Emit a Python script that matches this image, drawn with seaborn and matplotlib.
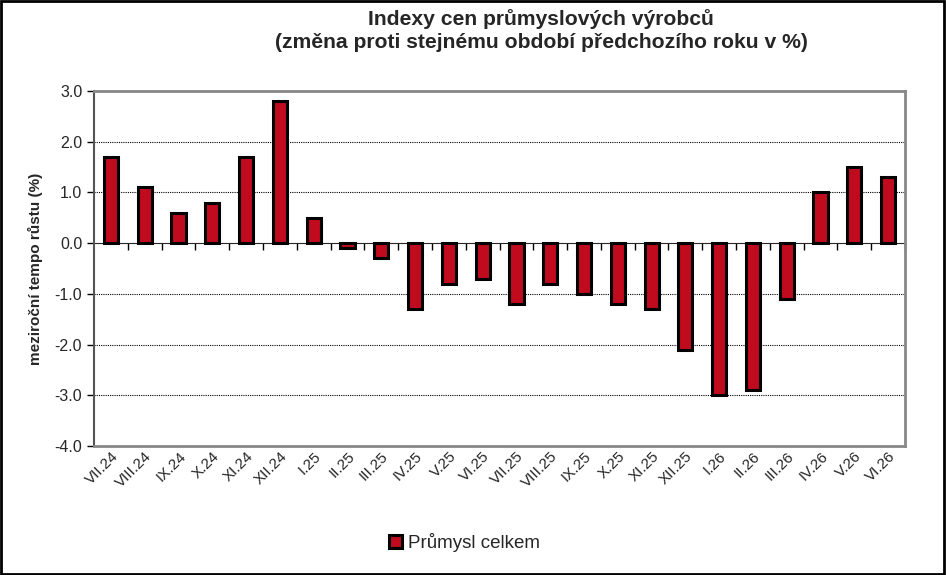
import matplotlib
matplotlib.use("Agg")
import matplotlib.pyplot as plt
import seaborn as sns
import pandas as pd
from matplotlib.ticker import FormatStrFormatter

# data
mesice = ["VII.24", "VIII.24", "IX.24", "X.24", "XI.24", "XII.24", "I.25", "II.25",
          "III.25", "IV.25", "V.25", "VI.25", "VII.25", "VIII.25", "IX.25", "X.25",
          "XI.25", "XII.25", "I.26", "II.26", "III.26", "IV.26", "V.26", "VI.26"]
prumysl_celkem = [1.7, 1.1, 0.6, 0.8, 1.7, 2.8, 0.5, -0.1, -0.3, -1.3, -0.8, -0.7,
                  -1.2, -0.8, -1.0, -1.2, -1.3, -2.1, -3.0, -2.9, -1.1, 1.0, 1.5, 1.3]

df = pd.DataFrame({"mesic": mesice, "hodnota": prumysl_celkem,
                   "serie": "Průmysl celkem"})

sns.set_style("white")
plt.rcParams["font.family"] = ["Liberation Sans", "DejaVu Sans"]

fig = plt.figure(figsize=(9.46, 5.75), dpi=100)
ax = fig.add_axes([0.0994, 0.2243, 0.8573, 0.6174])

sns.barplot(data=df, x="mesic", y="hodnota", hue="serie", palette=["#C00A1E"],
            width=0.42, edgecolor="black", linewidth=2.2, saturation=1, ax=ax)

ax.set_ylim(-4, 3)
ax.set_xlim(-0.5, len(mesice) - 0.5)
ax.set_yticks([-4, -3, -2, -1, 0, 1, 2, 3])
ax.yaxis.set_major_formatter(FormatStrFormatter("%.1f"))
for v in [-3, -2, -1, 1, 2]:
    ax.axhline(v, color="black", linestyle=(0, (1, 1)), linewidth=0.8, zorder=0)

for s in ["top", "right", "bottom"]:
    ax.spines[s].set_color("#888888")
    ax.spines[s].set_linewidth(2)
ax.spines["left"].set_color("#555555")
ax.spines["left"].set_linewidth(1.5)

ax.tick_params(axis="y", direction="out", length=5, width=1, color="black",
               labelsize=11.5, left=True)
ax.tick_params(axis="x", length=0, labelsize=11, pad=2)
plt.setp(ax.get_xticklabels(), rotation=45, ha="right", rotation_mode="anchor")
ax.set_xlabel("")
ax.set_ylabel("meziroční tempo růstu (%)", fontsize=11, fontweight="bold", labelpad=8)

# nulova osa s carkami na hranicich kategorii
nula = ax.secondary_xaxis(4 / 7)
nula.set_xticks([i + 0.5 for i in range(len(mesice))])
nula.set_xticklabels([])
nula.tick_params(axis="x", bottom=True, top=False, direction="out", length=5,
                 width=1, color="black")
nula.spines["bottom"].set_linewidth(1.2)
nula.spines["bottom"].set_color("black")

fig.suptitle("Indexy cen průmyslových výrobců\n(změna proti stejnému období předchozího roku v %)",
             fontsize=15.2, fontweight="bold", x=0.572, y=0.985, linespacing=1.3)

leg = ax.legend(loc="lower center", bbox_to_anchor=(0.457, -0.345), frameon=False,
                fontsize=13.5, handlelength=0.7, handleheight=0.7, handletextpad=0.3)

fig.patches.append(plt.Rectangle((0.001, 0.001), 0.997, 0.997, transform=fig.transFigure,
                                 fill=False, edgecolor="black", linewidth=2))

fig.savefig("out.png", dpi=100)
